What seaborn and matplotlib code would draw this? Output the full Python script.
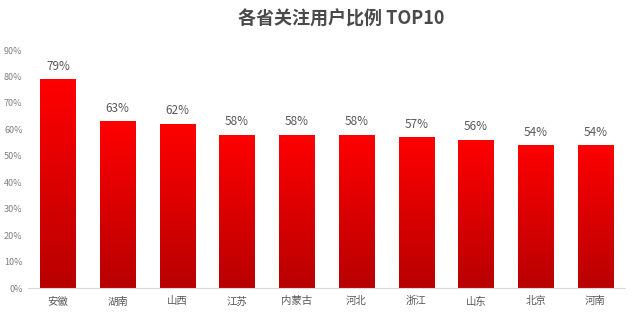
import matplotlib
matplotlib.use("Agg")
import matplotlib.pyplot as plt
import seaborn as sns
import numpy as np
import pandas as pd
from matplotlib.colors import LinearSegmentedColormap

provinces = ["安徽", "湖南", "山西", "江苏", "内蒙古", "河北", "浙江", "山东", "北京", "河南"]
ratios = [0.79, 0.63, 0.62, 0.58, 0.58, 0.58, 0.57, 0.56, 0.54, 0.54]
value_labels = ["79%", "63%", "62%", "58%", "58%", "58%", "57%", "56%", "54%", "54%"]
y_ticks = [0, 0.1, 0.2, 0.3, 0.4, 0.5, 0.6, 0.7, 0.8, 0.9]
y_ticklabels = ["0%", "10%", "20%", "30%", "40%", "50%", "60%", "70%", "80%", "90%"]
title = "各省关注用户比例 TOP10"

sns.set_theme(style="white")
plt.rcParams['font.family'] = ['Noto Sans CJK SC', 'DejaVu Sans']

df = pd.DataFrame({"province": provinces, "ratio": ratios})

fig = plt.figure(figsize=(6.38, 3.16), dpi=100)
ax = fig.add_axes([0.044, 0.0886, 0.936, 0.753])
sns.barplot(data=df, x="province", y="ratio", color="#E00000", width=0.59, ax=ax, saturation=1)

cmap = LinearSegmentedColormap.from_list("redgrad", ["#B80000", "#FF0000"])
grad = np.linspace(0, 1, 256).reshape(-1, 1)
for p in ax.patches:
    x0, y0 = p.get_x(), p.get_y()
    w, h = p.get_width(), p.get_height()
    p.set_facecolor("none")
    p.set_edgecolor("none")
    im = ax.imshow(grad, cmap=cmap, aspect="auto", origin="lower",
                   extent=[x0, x0 + w, y0, y0 + h], zorder=2)
    im.set_clip_path(p)

for i, (v, lab) in enumerate(zip(ratios, value_labels)):
    ax.text(i, v + 0.025, lab, ha="center", va="bottom", fontsize=8.5, color="#595959")

ax.set_xlim(-0.5, len(provinces) - 0.5)
ax.set_ylim(0, 0.9)
ax.set_yticks(y_ticks)
ax.set_yticklabels(y_ticklabels, fontsize=6.5, color="#7F7F7F")
ax.tick_params(axis="x", labelsize=7.5, labelcolor="#595959", length=0, pad=6)
ax.tick_params(axis="y", length=0, pad=4)
ax.set_xlabel("")
ax.set_ylabel("")
for s in ["top", "right", "left"]:
    ax.spines[s].set_visible(False)
ax.spines["bottom"].set_color("#D9D9D9")
ax.spines["bottom"].set_linewidth(0.8)

fig.text(0.535, 0.94, title, ha="center", va="center", fontsize=13,
         fontweight="bold", color="#4A4A4A")

fig.savefig("out.png", dpi=100)
